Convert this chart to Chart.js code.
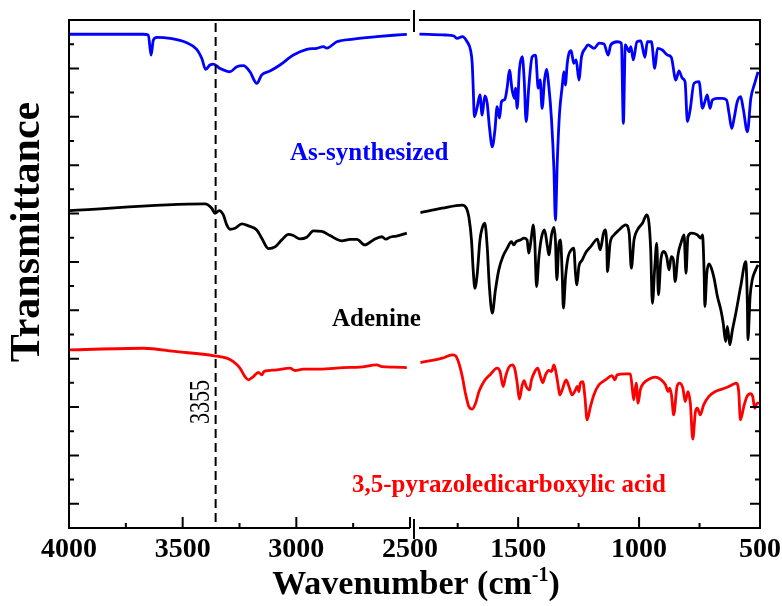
<!DOCTYPE html>
<html>
<head>
<meta charset="utf-8">
<title>FTIR spectra</title>
<script src="https://cdn.jsdelivr.net/npm/chart.js@4.4.1/dist/chart.umd.min.js"></script>
<style>
  body { margin: 0; background: #fff; }
  #box { position: relative; width: 782px; height: 606px; }
  #box canvas { position: absolute; left: 0; top: 0; }
</style>
</head>
<body>
<div id="box">
  <canvas id="leftPanel" width="782" height="606"></canvas>
  <canvas id="rightPanel" width="782" height="606"></canvas>
</div>
<script>
// wavenumbers (cm-1) and offset transmittance
const synthWn = [4000, 3673, 3651, 3639, 3629, 3614, 3556, 3482, 3438, 3416, 3399, 3380, 3365, 3336, 3292, 3262, 3233, 3204, 3174, 3152, 3116, 3072, 3013, 2954, 2910, 2881, 2866, 2822, 2749, 2646, 2573, 2514,
  1908, 1800, 1766, 1752, 1731, 1711, 1697, 1690, 1686, 1681, 1669, 1658, 1649, 1638, 1628, 1619, 1607, 1596, 1587, 1577, 1569, 1555, 1545, 1536, 1525, 1515, 1511, 1504, 1495, 1483, 1475, 1467, 1456, 1442, 1428, 1417, 1409, 1401, 1391, 1383, 1373, 1362, 1352, 1346, 1338, 1329, 1318, 1311, 1305, 1297, 1290, 1281, 1270, 1260, 1249, 1238, 1222, 1211, 1186, 1165, 1145, 1128, 1117, 1090, 1073, 1065, 1057, 1041, 1034, 1024, 1009, 993, 976, 966, 949, 935, 924, 904, 883, 867, 848, 835, 821, 810, 800, 789, 773, 752, 738, 728, 718, 707, 697, 676, 656, 638, 628, 617, 607, 594, 580, 569, 552, 538, 522, 508];
const synthT = [20.41, 20.41, 20.38, 19.55, 20.17, 20.28, 20.24, 20.06, 19.79, 19.42, 18.96, 19.14, 19.18, 19.00, 18.86, 19.07, 19.11, 18.86, 18.38, 18.73, 18.89, 19.14, 19.55, 19.79, 19.83, 19.90, 19.84, 20.10, 20.21, 20.31, 20.37, 20.41,
  20.42, 20.38, 20.34, 20.24, 20.31, 20.10, 19.76, 19.21, 18.24, 17.00, 17.42, 17.90, 17.07, 17.86, 17.56, 16.59, 15.76, 16.45, 17.42, 16.94, 17.62, 17.72, 18.24, 18.93, 18.11, 17.76, 18.18, 17.35, 18.93, 19.48, 18.52, 16.80, 18.24, 19.48, 19.55, 18.18, 18.52, 17.35, 18.52, 18.96, 18.24, 16.87, 14.80, 12.73, 15.21, 17.14, 18.24, 18.86, 18.31, 19.21, 19.62, 19.73, 19.21, 19.35, 18.52, 19.48, 19.83, 19.97, 19.83, 20.04, 20.01, 19.55, 19.97, 20.10, 20.04, 16.73, 19.97, 19.69, 19.90, 19.35, 20.10, 20.14, 19.46, 20.10, 20.10, 19.00, 19.83, 19.76, 19.55, 19.46, 18.52, 18.90, 18.59, 18.45, 16.80, 17.28, 18.38, 18.45, 17.35, 17.62, 17.90, 17.35, 17.69, 17.76, 17.76, 17.69, 17.14, 16.52, 16.94, 17.62, 17.83, 17.31, 16.38, 17.76, 18.38, 18.86];

const adenineWn = [4000, 3402, 3372, 3358, 3339, 3321, 3306, 3292, 3270, 3240, 3211, 3174, 3152, 3123, 3094, 3064, 3035, 3013, 2984, 2954, 2925, 2888, 2852, 2800, 2764, 2734, 2698, 2661, 2624, 2606, 2588, 2559, 2514,
  1904, 1814, 1731, 1714, 1704, 1693, 1686, 1679, 1669, 1658, 1649, 1638, 1628, 1619, 1607, 1594, 1580, 1563, 1545, 1528, 1518, 1508, 1490, 1476, 1463, 1456, 1445, 1438, 1431, 1424, 1414, 1404, 1391, 1380, 1373, 1362, 1352, 1346, 1340, 1332, 1325, 1318, 1313, 1304, 1293, 1280, 1270, 1263, 1257, 1249, 1235, 1222, 1200, 1172, 1161, 1147, 1140, 1133, 1131, 1120, 1103, 1083, 1055, 1041, 1032, 1021, 1007, 986, 968, 959, 952, 945, 935, 927, 920, 910, 897, 886, 876, 867, 858, 851, 839, 825, 814, 806, 798, 784, 759, 745, 738, 731, 728, 720, 711, 701, 690, 676, 662, 652, 642, 635, 625, 614, 600, 580, 559, 552, 550, 541, 532, 518, 508];
const adenineT = [13.12, 13.40, 13.22, 13.01, 13.12, 12.94, 12.53, 12.35, 12.39, 12.57, 12.49, 12.32, 11.98, 11.55, 11.62, 11.91, 12.14, 12.09, 11.95, 12.02, 12.28, 12.26, 12.09, 11.87, 11.93, 11.93, 11.70, 11.91, 12.04, 11.94, 12.02, 12.07, 12.19,
  13.04, 13.22, 13.35, 13.22, 12.87, 11.91, 10.67, 9.91, 10.53, 11.91, 12.39, 12.60, 11.63, 9.98, 8.88, 9.84, 10.67, 11.22, 11.57, 11.84, 11.70, 11.84, 11.91, 11.98, 11.91, 11.36, 12.04, 12.53, 11.77, 9.98, 11.22, 11.98, 12.32, 11.70, 11.29, 12.12, 12.43, 11.91, 10.26, 11.70, 11.91, 10.53, 9.09, 10.39, 11.22, 11.50, 11.57, 10.53, 10.05, 10.80, 11.08, 11.36, 11.63, 11.94, 11.50, 12.19, 12.32, 11.50, 10.60, 11.77, 12.12, 12.32, 12.53, 12.19, 10.74, 11.91, 12.32, 12.60, 12.94, 12.60, 11.50, 9.29, 10.80, 11.77, 9.64, 11.08, 11.43, 11.22, 10.67, 11.22, 11.08, 10.19, 11.29, 11.84, 12.12, 10.53, 12.04, 12.19, 12.12, 11.98, 12.12, 10.53, 9.15, 10.53, 10.92, 10.74, 10.33, 9.57, 9.02, 8.46, 7.71, 8.33, 7.57, 8.19, 8.88, 9.98, 11.01, 9.15, 7.78, 9.57, 10.26, 10.67, 10.88];

const pdcaWn = [4000, 3673, 3526, 3361, 3306, 3277, 3248, 3226, 3211, 3189, 3167, 3152, 3142, 3123, 3086, 3028, 3006, 2969, 2896, 2793, 2720, 2646, 2624, 2573, 2514,
  1904, 1814, 1773, 1759, 1745, 1731, 1718, 1704, 1690, 1676, 1662, 1642, 1614, 1587, 1575, 1562, 1552, 1538, 1524, 1513, 1504, 1495, 1483, 1475, 1467, 1453, 1445, 1431, 1419, 1408, 1398, 1387, 1373, 1362, 1352, 1343, 1334, 1328, 1318, 1302, 1290, 1277, 1263, 1256, 1249, 1243, 1233, 1224, 1215, 1201, 1187, 1166, 1139, 1112, 1100, 1091, 1056, 1036, 1029, 1022, 1012, 1004, 995, 981, 960, 933, 912, 891, 880, 874, 866, 857, 843, 832, 819, 809, 798, 788, 778, 767, 759, 747, 733, 712, 685, 657, 629, 609, 599, 588, 581, 567, 554, 540, 530, 522, 512, 503];
const pdcaT = [7.36, 7.43, 7.29, 7.12, 7.02, 6.88, 6.61, 6.26, 6.12, 6.26, 6.43, 6.33, 6.47, 6.51, 6.54, 6.61, 6.51, 6.57, 6.57, 6.63, 6.65, 6.74, 6.67, 6.65, 6.63,
  6.84, 7.02, 7.16, 7.12, 6.81, 6.26, 5.57, 5.02, 4.91, 5.16, 5.64, 6.05, 6.36, 6.61, 6.47, 5.85, 6.26, 6.65, 6.74, 6.54, 5.99, 5.33, 5.92, 6.09, 5.85, 5.71, 6.12, 6.47, 6.61, 6.26, 6.01, 6.33, 6.51, 6.47, 6.74, 6.40, 5.85, 5.50, 5.71, 6.12, 5.85, 5.50, 5.71, 5.85, 5.64, 5.99, 6.05, 5.43, 4.47, 5.02, 5.50, 5.92, 6.12, 6.30, 6.12, 6.33, 6.37, 6.37, 5.85, 5.30, 5.99, 5.16, 5.71, 5.99, 6.15, 6.24, 6.15, 5.92, 5.64, 5.78, 5.50, 4.68, 5.85, 5.99, 5.78, 5.23, 5.64, 5.16, 3.67, 4.81, 4.95, 4.68, 5.09, 5.43, 5.64, 5.74, 5.85, 5.95, 5.99, 5.64, 4.47, 5.02, 5.43, 5.55, 5.43, 4.95, 5.16, 5.16];

const leftMajor = [4000, 3500, 3000, 2500];
const leftMinor = [3750, 3250, 2750];
const rightMajor = [1500, 1000, 500];
const rightMinor = [1750, 1250, 750];
const yTicks = [1, 2, 3, 4, 5, 6, 7, 8, 9, 10, 11, 12, 13, 14, 15, 16, 17, 18, 19, 20];
const markWn = 3355;

const BLUE = '#0000ff';
const RED = '#ff0000';
const SERIF = '"Liberation Serif", "Times New Roman", serif';

function pts(wn, t, keep) {
  const out = [];
  for (let i = 0; i < wn.length; i++) {
    if (keep(wn[i])) out.push({ x: wn[i], y: t[i] });
  }
  return out;
}

function series(wn, t, color, keep) {
  return {
    data: pts(wn, t, keep),
    borderColor: color,
    borderWidth: 2.8,
    pointRadius: 0,
    cubicInterpolationMode: 'monotone',
    fill: false
  };
}

// frame, inward ticks, tick labels and the notes
const framePlugin = {
  id: 'frame',
  afterDraw(chart, args, o) {
    const { ctx, chartArea: a } = chart;
    const x = chart.scales.x, y = chart.scales.y;
    const left = o.side === 'left';
    const edge = left ? a.left : a.right;
    const dir = left ? 1 : -1;

    ctx.save();
    ctx.strokeStyle = '#000';
    ctx.lineWidth = 2;
    ctx.beginPath();
    ctx.moveTo(a.left, a.top); ctx.lineTo(a.right, a.top);
    ctx.moveTo(a.left, a.bottom); ctx.lineTo(a.right, a.bottom);
    ctx.moveTo(edge, a.top - 1); ctx.lineTo(edge, a.bottom + 1);
    yTicks.forEach(v => {
      const py = y.getPixelForValue(v);
      ctx.moveTo(edge, py);
      ctx.lineTo(edge + dir * (v % 2 ? 10 : 5), py);
    });
    o.major.forEach(v => {
      const px = x.getPixelForValue(v);
      ctx.moveTo(px, a.bottom); ctx.lineTo(px, a.bottom - 11);
    });
    o.minor.forEach(v => {
      const px = x.getPixelForValue(v);
      ctx.moveTo(px, a.bottom); ctx.lineTo(px, a.bottom - 5);
    });
    ctx.stroke();

    ctx.fillStyle = '#000';
    ctx.font = 'bold 28px ' + SERIF;
    ctx.textAlign = 'center';
    ctx.textBaseline = 'alphabetic';
    o.major.forEach(v => ctx.fillText(String(v), x.getPixelForValue(v), a.bottom + 29));

    if (left) {
      // reference line
      const px = x.getPixelForValue(markWn);
      ctx.setLineDash([9, 5]);
      ctx.beginPath();
      ctx.moveTo(px, a.top + 3); ctx.lineTo(px, a.bottom);
      ctx.stroke();
      ctx.setLineDash([]);

      ctx.save();
      ctx.translate(px - 14, 402);
      ctx.rotate(-Math.PI / 2);
      ctx.scale(1, 1.3);
      ctx.font = '22px ' + SERIF;
      ctx.textBaseline = 'middle';
      ctx.fillText(String(markWn), 0, 0);
      ctx.restore();

      ctx.save();
      ctx.translate(28, 232);
      ctx.rotate(-Math.PI / 2);
      ctx.font = 'bold 42px ' + SERIF;
      ctx.textBaseline = 'middle';
      ctx.fillText('Transmittance', 0, 0);
      ctx.restore();
    } else {
      // axis break marks
      const bx = a.left - 5;
      ctx.beginPath();
      ctx.moveTo(bx, a.top - 10); ctx.lineTo(bx, a.top + 12);
      ctx.moveTo(bx, a.bottom - 9); ctx.lineTo(bx, a.bottom + 11);
      ctx.stroke();

      // x title with superscript
      const main = 'Wavenumber (cm', sup = '-1', close = ')';
      ctx.textAlign = 'left';
      ctx.font = 'bold 34px ' + SERIF;
      const w1 = ctx.measureText(main).width, w3 = ctx.measureText(close).width;
      ctx.font = 'bold 20px ' + SERIF;
      const w2 = ctx.measureText(sup).width;
      let tx = 416 - (w1 + w2 + w3) / 2;
      const base = 594;
      ctx.font = 'bold 34px ' + SERIF;
      ctx.fillText(main, tx, base);
      ctx.font = 'bold 20px ' + SERIF;
      ctx.fillText(sup, tx + w1, base - 13);
      ctx.font = 'bold 34px ' + SERIF;
      ctx.fillText(close, tx + w1 + w2, base);

      ctx.font = 'bold 25px ' + SERIF;
      ctx.fillStyle = BLUE;
      ctx.fillText('As-synthesized', 290, 160);
      ctx.fillStyle = '#000';
      ctx.fillText('Adenine', 332, 326);
      ctx.fillStyle = RED;
      ctx.fillText('3,5-pyrazoledicarboxylic acid', 352, 492);
    }
    ctx.restore();
  }
};

function panel(id, xMin, xMax, pad, keep, frameOpts) {
  return new Chart(document.getElementById(id), {
    type: 'line',
    data: {
      datasets: [
        series(synthWn, synthT, BLUE, keep),
        series(adenineWn, adenineT, '#000000', keep),
        series(pdcaWn, pdcaT, RED, keep)
      ]
    },
    options: {
      responsive: false,
      animation: false,
      events: [],
      layout: { padding: pad },
      plugins: {
        legend: { display: false },
        tooltip: { enabled: false },
        frame: frameOpts
      },
      scales: {
        x: { type: 'linear', min: xMin, max: xMax, reverse: true, display: false },
        y: { type: 'linear', min: 0, max: 21, display: false }
      }
    },
    plugins: [framePlugin]
  });
}

panel('leftPanel', 2500, 4000, { left: 69, right: 372, top: 20, bottom: 78 },
  w => w >= 2500, { side: 'left', major: leftMajor, minor: leftMinor });
panel('rightPanel', 500, 1910, { left: 419, right: 22, top: 20, bottom: 78 },
  w => w <= 1910, { side: 'right', major: rightMajor, minor: rightMinor });
</script>
</body>
</html>
